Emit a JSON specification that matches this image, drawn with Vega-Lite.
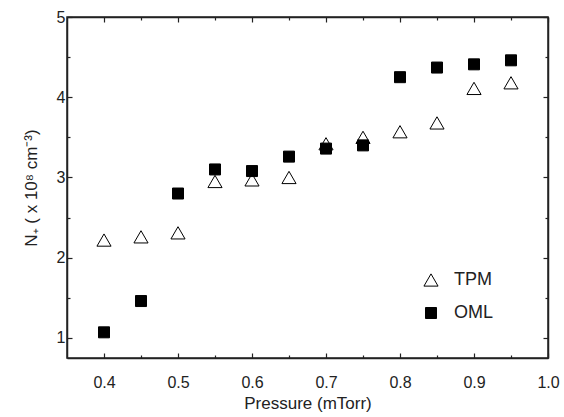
{
  "$schema": "https://vega.github.io/schema/vega-lite/v6.json",
  "width": 481,
  "height": 341,
  "autosize": "none",
  "padding": {"left": 67, "top": 17, "right": 16, "bottom": 59},
  "background": "white",
  "config": {
    "view": {"stroke": "#222", "strokeWidth": 1.5},
    "font": "Liberation Sans",
    "axis": {
      "domainColor": "#222",
      "domainWidth": 1.5,
      "tickColor": "#222",
      "tickWidth": 1.2,
      "grid": false,
      "labelFont": "Liberation Sans",
      "labelFontSize": 16,
      "labelColor": "#222",
      "titleFont": "Liberation Sans",
      "titleFontSize": 17,
      "titleFontWeight": "normal",
      "titleColor": "#222"
    }
  },
  "data": {
    "values": [
      {"pressure": 0.40, "N": 2.22, "method": "TPM"},
      {"pressure": 0.45, "N": 2.26, "method": "TPM"},
      {"pressure": 0.50, "N": 2.31, "method": "TPM"},
      {"pressure": 0.55, "N": 2.95, "method": "TPM"},
      {"pressure": 0.60, "N": 2.97, "method": "TPM"},
      {"pressure": 0.65, "N": 3.00, "method": "TPM"},
      {"pressure": 0.70, "N": 3.42, "method": "TPM"},
      {"pressure": 0.75, "N": 3.50, "method": "TPM"},
      {"pressure": 0.80, "N": 3.57, "method": "TPM"},
      {"pressure": 0.85, "N": 3.68, "method": "TPM"},
      {"pressure": 0.90, "N": 4.11, "method": "TPM"},
      {"pressure": 0.95, "N": 4.18, "method": "TPM"},
      {"pressure": 0.40, "N": 1.07, "method": "OML"},
      {"pressure": 0.45, "N": 1.46, "method": "OML"},
      {"pressure": 0.50, "N": 2.80, "method": "OML"},
      {"pressure": 0.55, "N": 3.10, "method": "OML"},
      {"pressure": 0.60, "N": 3.08, "method": "OML"},
      {"pressure": 0.65, "N": 3.26, "method": "OML"},
      {"pressure": 0.70, "N": 3.36, "method": "OML"},
      {"pressure": 0.75, "N": 3.40, "method": "OML"},
      {"pressure": 0.80, "N": 4.25, "method": "OML"},
      {"pressure": 0.85, "N": 4.37, "method": "OML"},
      {"pressure": 0.90, "N": 4.41, "method": "OML"},
      {"pressure": 0.95, "N": 4.46, "method": "OML"}
    ]
  },
  "layer": [
    {
      "mark": {"type": "point", "filled": true, "stroke": "black", "strokeWidth": 1, "opacity": 1},
      "encoding": {
        "x": {
          "field": "pressure", "type": "quantitative",
          "scale": {"domain": [0.35, 1.0], "nice": false, "zero": false},
          "axis": {
            "orient": "bottom",
            "title": "Pressure (mTorr)",
            "titlePadding": 5,
            "values": [0.4, 0.5, 0.6, 0.7, 0.8, 0.9, 1.0],
            "format": ".1f",
            "tickSize": -5,
            "labelPadding": 21,
            "labelFontSize": 16,
            "labelFlush": false
          }
        },
        "y": {
          "field": "N", "type": "quantitative",
          "scale": {"domain": [0.75, 5], "nice": false, "zero": false},
          "axis": {
            "orient": "left",
            "title": "N₊ ( x 10⁸ cm⁻³)",
            "titleFontSize": 17,
            "titlePadding": 16,
            "values": [1, 2, 3, 4, 5],
            "format": "d",
            "tickSize": -5,
            "labelPadding": 7,
            "labelFontSize": 16,
            "labelFlush": false
          }
        },
        "shape": {
          "field": "method", "type": "nominal",
          "scale": {"domain": ["TPM", "OML"], "range": ["triangle-up", "square"]},
          "legend": {
            "title": null,
            "orient": "none",
            "legendX": 355,
            "legendY": 254,
            "padding": 0,
            "rowPadding": 15,
            "labelFontSize": 18,
            "labelFont": "Liberation Sans",
            "labelColor": "#222",
            "labelOffset": 14,
            "symbolStrokeColor": "black",
            "symbolStrokeWidth": 1
          }
        },
        "fill": {
          "field": "method", "type": "nominal",
          "scale": {"domain": ["TPM", "OML"], "range": ["white", "black"]}
        },
        "size": {
          "field": "method", "type": "nominal",
          "scale": {"domain": ["TPM", "OML"], "range": [200, 121]}
        }
      }
    },
    {
      "mark": {"type": "point", "opacity": 0},
      "encoding": {
        "x": {
          "field": "pressure", "type": "quantitative",
          "axis": {"orient": "bottom", "title": null, "labels": false, "domain": false, "values": [0.45, 0.55, 0.65, 0.75, 0.85, 0.95], "tickSize": -3}
        },
        "y": {
          "field": "N", "type": "quantitative",
          "axis": {"orient": "left", "title": null, "labels": false, "domain": false, "values": [1.5, 2.5, 3.5, 4.5], "tickSize": -3}
        }
      }
    },
    {
      "mark": {"type": "point", "opacity": 0},
      "encoding": {
        "x": {
          "field": "pressure", "type": "quantitative",
          "axis": {"orient": "top", "title": null, "labels": false, "values": [0.4, 0.5, 0.6, 0.7, 0.8, 0.9, 1.0], "tickSize": -5}
        },
        "y": {
          "field": "N", "type": "quantitative",
          "axis": {"orient": "right", "title": null, "labels": false, "values": [1, 2, 3, 4, 5], "tickSize": -5}
        }
      }
    },
    {
      "mark": {"type": "point", "opacity": 0},
      "encoding": {
        "x": {
          "field": "pressure", "type": "quantitative",
          "axis": {"orient": "top", "title": null, "labels": false, "domain": false, "values": [0.45, 0.55, 0.65, 0.75, 0.85, 0.95], "tickSize": -3}
        },
        "y": {
          "field": "N", "type": "quantitative",
          "axis": {"orient": "right", "title": null, "labels": false, "domain": false, "values": [1.5, 2.5, 3.5, 4.5], "tickSize": -3}
        }
      }
    }
  ],
  "resolve": {"axis": {"x": "independent", "y": "independent"}}
}
